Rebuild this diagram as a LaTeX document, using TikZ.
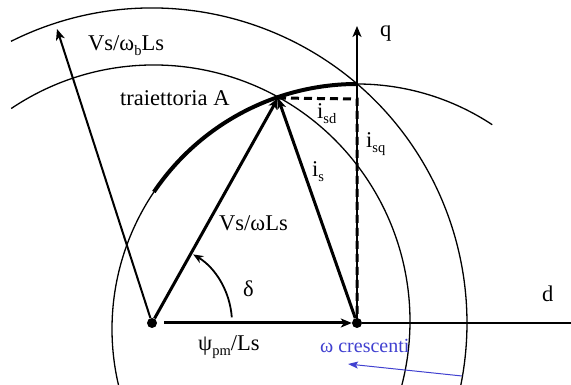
\documentclass[tikz,border=0pt]{standalone}
\usepackage{fontspec}
\setmainfont{Liberation Serif}
\usetikzlibrary{arrows.meta,calc}
\definecolor{mblue}{RGB}{64,64,208}
\newcommand\lowsub[1]{\raisebox{-0.22em}{\fontsize{14.5}{15}\selectfont #1}}
\begin{document}
\begin{tikzpicture}[x=1pt,y=1pt,
  thinc/.style={line width=1.3pt},
  tip/.style={-{Stealth[length=11pt,width=9pt,inset=3pt]}},
  vec/.style={line width=3pt,tip},
  lbl/.style={font=\fontsize{22.5}{26}\selectfont, anchor=base west, inner sep=0pt},
  dashl/.style={line width=3pt, dash pattern=on 8pt off 5pt},
  dotn/.style={circle,fill,inner sep=0pt,minimum size=10pt}]
\useasboundingbox (0,0) rectangle (571,385);
\clip (0,0) rectangle (571,385);
% key points
\coordinate (C1) at (154,64);
\coordinate (C2) at (357,56);
\coordinate (C3) at (152,62);
\coordinate (T) at (278,287);
\coordinate (K) at (357,286);
\coordinate (Qtop) at (357,359);
\coordinate (Dend) at (571,62);
\coordinate (P0) at (164,62);
\coordinate (Vb) at (57,356);
\coordinate (B1) at (462,9);
\coordinate (B2) at (348,21);
% circles
\draw[thinc] (C1) ++(123.9:256) arc[start angle=123.9,end angle=-20,radius=256];
\draw[thinc] (C3) ++(116.6:315) arc[start angle=116.6,end angle=-20,radius=315];
\draw[thinc] (C2) ++(200:245) arc[start angle=200,end angle=146,radius=245];
\draw[line width=4pt] (C2) ++(146:245) arc[start angle=146,end angle=90,radius=245];
\draw[thinc] (C2) ++(90:245) arc[start angle=90,end angle=56.5,radius=245];
% dots
\node[dotn] (A0) at (152,62) {};
\node[dotn] (O) at (357,62) {};
% axes
\draw[line width=2pt] (O) -- (Dend);
\draw[line width=2pt,tip] (O.center) -- (Qtop);
% dashed components
\draw[dashl] (T) -- (K) -- (O.center);
% vectors
\draw[line width=2pt,tip] (A0) -- (Vb);
\draw[vec] (A0) -- (T);
\draw[vec] (O) -- (T);
\draw[vec] (P0) -- (O);
% delta arc
\draw[line width=1.8pt,-{Stealth[length=10pt,width=8pt,inset=3pt]}] (A0.center) ++(4:80) arc[start angle=4,end angle=59,radius=80];
% blue arrow
\draw[mblue,line width=1pt,-{Stealth[length=10pt,width=7pt,inset=2pt]}] (B1) -- (B2);
% labels
\node[lbl] (lvb) at (88,334) {Vs/ω\lowsub{b}Ls};
\node[lbl] (ltr) at (120,279) {traiettoria A};
\node[lbl] (lq) at (380,348) {q};
\node[lbl] (lisd) at (317,266) {i\lowsub{sd}};
\node[lbl] (lisq) at (366,237) {i\lowsub{sq}};
\node[lbl] (lis) at (312,208) {i\lowsub{s}};
\node[lbl] (lvs) at (219,154) {Vs/ωLs};
\node[lbl] (ld) at (243,88) {δ};
\node[lbl] (lpsi) at (198,34) {ψ\lowsub{pm}/Ls};
\node[lbl] (ldd) at (542,83) {d};
\node[lbl,font=\fontsize{20}{24}\selectfont,text=mblue] (lw) at (320,32) {ω crescenti};
\end{tikzpicture}
\end{document}
